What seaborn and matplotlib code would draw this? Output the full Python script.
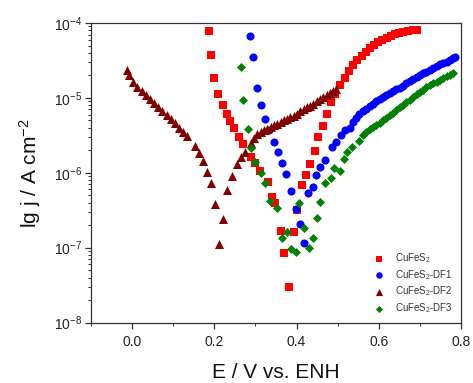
import matplotlib
matplotlib.use("Agg")
import matplotlib.pyplot as plt
import seaborn as sns
import numpy as np
import pandas as pd
from matplotlib.ticker import LogLocator, MultipleLocator, FormatStrFormatter

# ---------------- data ----------------
E_cufes2 = [0.186, 0.191, 0.200, 0.210, 0.220, 0.230, 0.239, 0.249, 0.261, 0.270,
            0.289, 0.300, 0.312, 0.331, 0.340, 0.348, 0.361, 0.370, 0.381, 0.393,
            0.401, 0.413, 0.422, 0.433, 0.444, 0.452, 0.464, 0.473, 0.484, 0.493,
            0.506, 0.517, 0.527, 0.537, 0.548, 0.558, 0.568, 0.578, 0.588, 0.598,
            0.609, 0.619, 0.629, 0.639, 0.649, 0.659, 0.670, 0.684, 0.693]
j_cufes2 = [7.82e-5, 3.74e-5, 1.83e-5, 1.14e-5, 7.96e-6, 6.10e-6, 4.97e-6, 3.98e-6, 2.98e-6, 2.43e-6,
            1.64e-6, 1.34e-6, 1.07e-6, 7.60e-7, 4.71e-7, 3.92e-7, 1.69e-7, 8.41e-8, 2.96e-8, 1.64e-7,
            3.18e-7, 6.87e-7, 9.35e-7, 1.30e-6, 1.97e-6, 2.98e-6, 4.26e-6, 6.04e-6, 8.73e-6, 1.12e-5,
            1.49e-5, 1.83e-5, 2.29e-5, 2.75e-5, 3.21e-5, 3.66e-5, 4.14e-5, 4.59e-5, 5.08e-5, 5.52e-5,
            5.93e-5, 6.37e-5, 6.78e-5, 7.13e-5, 7.43e-5, 7.66e-5, 7.89e-5, 8.07e-5, 8.15e-5]

E_df1 = [0.287, 0.295, 0.303, 0.313, 0.323, 0.333, 0.344, 0.354, 0.364, 0.375,
         0.387, 0.399, 0.409, 0.419, 0.429, 0.439, 0.448, 0.458, 0.468, 0.487,
         0.497, 0.509, 0.519, 0.529, 0.537, 0.545, 0.553, 0.561, 0.569, 0.578,
         0.586, 0.594, 0.602, 0.610, 0.618, 0.627, 0.635, 0.643, 0.651, 0.659,
         0.667, 0.676, 0.684, 0.692, 0.700, 0.708, 0.716, 0.724, 0.732, 0.741,
         0.749, 0.757, 0.765, 0.773, 0.780, 0.785]
j_df1 = [6.7e-5, 3.48e-5, 1.37e-5, 7.96e-6, 5.3e-6, 3.7e-6, 2.55e-6, 1.91e-6, 1.35e-6, 9.5e-7,
         5.7e-7, 3.3e-7, 2.05e-7, 1.17e-7, 5.3e-7, 6.5e-7, 9.4e-7, 1.18e-6, 1.48e-6, 2.19e-6,
         2.6e-6, 3.2e-6, 3.73e-6, 4.0e-6, 4.8e-6, 5.4e-6, 6.1e-6, 6.6e-6, 7.2e-6, 7.8e-6,
         8.4e-6, 9.0e-6, 9.6e-6, 1.03e-5, 1.10e-5, 1.17e-5, 1.23e-5, 1.30e-5, 1.37e-5, 1.46e-5,
         1.56e-5, 1.66e-5, 1.77e-5, 1.89e-5, 2.02e-5, 2.13e-5, 2.25e-5, 2.38e-5, 2.52e-5, 2.66e-5,
         2.80e-5, 2.93e-5, 3.06e-5, 3.20e-5, 3.38e-5, 3.55e-5]

E_df2 = [-0.012, -0.008, 0.002, 0.012, 0.023, 0.033, 0.043, 0.053, 0.064, 0.073,
         0.084, 0.094, 0.104, 0.114, 0.124, 0.134, 0.153, 0.163, 0.173, 0.182,
         0.192, 0.202, 0.212, 0.222, 0.232, 0.244, 0.254, 0.266, 0.275, 0.289,
         0.297, 0.305, 0.313, 0.321, 0.329, 0.337, 0.345, 0.353, 0.361, 0.369,
         0.377, 0.385, 0.393, 0.401, 0.409, 0.417, 0.425, 0.433, 0.441, 0.449,
         0.457, 0.465, 0.473, 0.481, 0.489, 0.497]
j_df2 = [2.36e-5, 2.02e-5, 1.65e-5, 1.41e-5, 1.25e-5, 1.09e-5, 9.6e-6, 8.5e-6, 7.5e-6, 6.7e-6,
         5.9e-6, 5.2e-6, 4.58e-6, 3.93e-6, 3.5e-6, 3.1e-6, 2.28e-6, 1.82e-6, 1.45e-6, 1.02e-6,
         7.4e-7, 3.8e-7, 1.11e-7, 2.41e-7, 5.9e-7, 9.05e-7, 1.31e-6, 1.64e-6, 1.91e-6, 2.5e-6,
         2.9e-6, 3.3e-6, 3.55e-6, 3.75e-6, 3.9e-6, 4.1e-6, 4.35e-6, 4.55e-6, 4.75e-6, 5.0e-6,
         5.25e-6, 5.5e-6, 5.8e-6, 6.1e-6, 6.6e-6, 7.1e-6, 7.5e-6, 7.9e-6, 8.4e-6, 9.1e-6,
         9.7e-6, 1.02e-5, 1.08e-5, 1.15e-5, 1.22e-5, 1.30e-5]

E_df3 = [0.265, 0.269, 0.281, 0.290, 0.300, 0.313, 0.323, 0.335, 0.352, 0.364,
         0.377, 0.387, 0.399, 0.407, 0.417, 0.430, 0.440, 0.449, 0.458, 0.468,
         0.484, 0.492, 0.505, 0.515, 0.522, 0.534, 0.552, 0.561, 0.570, 0.578,
         0.586, 0.594, 0.602, 0.610, 0.618, 0.627, 0.635, 0.643, 0.651, 0.659,
         0.667, 0.676, 0.684, 0.692, 0.700, 0.708, 0.716, 0.724, 0.732, 0.741,
         0.749, 0.757, 0.765, 0.773, 0.781]
j_df3 = [2.61e-5, 9.5e-6, 3.9e-6, 2.12e-6, 1.41e-6, 9.8e-7, 7.4e-7, 4.2e-7, 3.36e-7, 1.36e-7,
         1.64e-7, 9.5e-8, 8.7e-8, 3.9e-7, 1.85e-7, 9.8e-8, 1.36e-7, 2.47e-7, 4.1e-7, 7.4e-7,
         8.6e-7, 1.15e-6, 1.06e-6, 1.51e-6, 1.91e-6, 2.23e-6, 2.69e-6, 3.2e-6, 3.54e-6, 3.9e-6,
         4.1e-6, 4.4e-6, 4.6e-6, 5.0e-6, 5.4e-6, 5.9e-6, 6.3e-6, 6.9e-6, 7.6e-6, 8.1e-6,
         8.7e-6, 9.4e-6, 1.02e-5, 1.11e-5, 1.21e-5, 1.29e-5, 1.39e-5, 1.49e-5, 1.56e-5, 1.65e-5,
         1.73e-5, 1.84e-5, 1.95e-5, 2.04e-5, 2.13e-5]

labels = ["CuFeS$_2$", "CuFeS$_2$-DF1", "CuFeS$_2$-DF2", "CuFeS$_2$-DF3"]
colors = ["#FF0000", "#0000FF", "#800000", "#008000"]
markers = ["s", "o", "^", "D"]
sizes = [32, 34, 42, 21]

x_ticks = [0.0, 0.2, 0.4, 0.6, 0.8]

# ---------------- style ----------------
sns.set_theme(style="ticks")
plt.rcParams["font.family"] = ["Liberation Sans", "DejaVu Sans"]
plt.rcParams["mathtext.fontset"] = "custom"
plt.rcParams["mathtext.rm"] = "Liberation Sans"
plt.rcParams["mathtext.it"] = "Liberation Sans:italic"
plt.rcParams["mathtext.bf"] = "Liberation Sans:bold"

fig = plt.figure(figsize=(4.73, 3.83), dpi=100)
ax = fig.add_axes([0.1924, 0.1577, 0.7822, 0.7823])

series = [(E_cufes2, j_cufes2), (E_df1, j_df1), (E_df2, j_df2), (E_df3, j_df3)]
for (E, j), lab, c, m, s in zip(series, labels, colors, markers, sizes):
    df = pd.DataFrame({"E": E, "j": j})
    sns.scatterplot(data=df, x="E", y="j", ax=ax, color=c, marker=m, s=s,
                    linewidth=0, label=lab, zorder=3)

ax.set_yscale("log")
ax.set_xlim(-0.1, 0.8)
ax.set_ylim(1e-8, 1e-4)
ax.set_xticks(x_ticks)
ax.xaxis.set_major_formatter(FormatStrFormatter("%.1f"))
ax.xaxis.set_minor_locator(MultipleLocator(0.1))
ax.yaxis.set_major_locator(LogLocator(base=10, numticks=10))
ax.yaxis.set_minor_locator(LogLocator(base=10, subs=np.arange(2, 10), numticks=20))

for sp in ax.spines.values():
    sp.set_color("#333333")
    sp.set_linewidth(0.9)

ax.tick_params(axis="both", which="major", direction="out", length=4, width=0.9,
               labelsize=10, colors="#333333", labelcolor="#222222", pad=2)
ax.tick_params(axis="both", which="minor", direction="out", length=2.2, width=0.7,
               colors="#333333")
ax.tick_params(axis="x", which="major", pad=5)

ax.set_xlabel("E / V vs. ENH", fontsize=15, labelpad=10, color="#111111")
ax.set_ylabel("lg j / A cm$^{-2}$", fontsize=15, labelpad=8, color="#111111")

leg = ax.legend(loc="upper left", bbox_to_anchor=(0.735, 0.26), frameon=False,
                fontsize=7, labelspacing=0.28, handletextpad=0.6, borderpad=0.2,
                markerscale=0.8)
for t in leg.get_texts():
    t.set_color("#333333")

fig.savefig("out.png", dpi=100)
